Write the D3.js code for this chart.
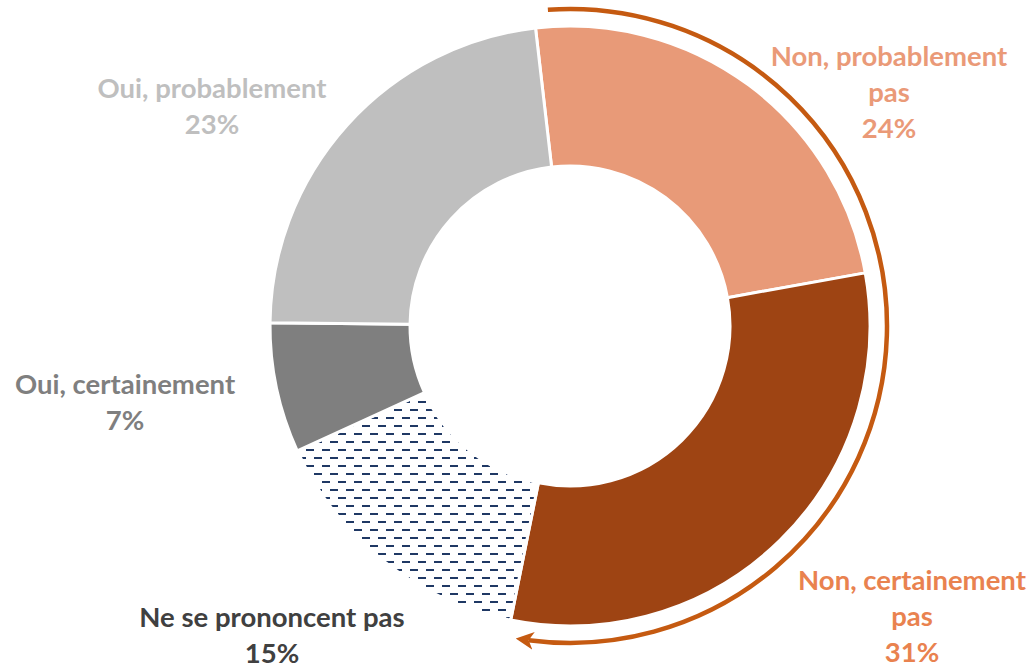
<!DOCTYPE html>
<meta charset="utf-8">
<style>
body { margin: 0; background: #fff; }
.lbl { font-family: Lato, "Open Sans", sans-serif; font-weight: bold; font-size: 27.5px; }
</style>
<body>
<script src="https://d3js.org/d3.v7.min.js"></script>
<script>

// slices, clockwise from the top
var categories = ["Non, probablement pas", "Non, certainement pas", "Ne se prononcent pas", "Oui, certainement", "Oui, probablement"];
var values = [24, 31, 15, 7, 23];
var labelLines = [
  ["Non, probablement", "pas", "24%"],
  ["Non, certainement", "pas", "31%"],
  ["Ne se prononcent pas", "15%"],
  ["Oui, certainement", "7%"],
  ["Oui, probablement", "23%"]
];

var width = 1029, height = 668;
var cx = 570, cy = 326, outerR = 300, innerR = 160;

var fills = ["#e89a78", "#9e4413", "url(#dashes)", "#7f7f7f", "#bfbfbf"];
var textColors = ["#ea9a78", "#e9824f", "#404040", "#7f7f7f", "#bfbfbf"];
// label centres (x, y of first line)
var labelPos = [[889, 55], [912, 579], [272, 616], [125, 383], [212, 87]];

var svg = d3.select("body").append("svg")
    .attr("width", width)
    .attr("height", height);

var defs = svg.append("defs");
var pat = defs.append("pattern")
    .attr("id", "dashes")
    .attr("patternUnits", "userSpaceOnUse")
    .attr("width", 16).attr("height", 16);
pat.append("rect").attr("width", 16).attr("height", 16).attr("fill", "#fff");
pat.append("rect").attr("x", 0).attr("y", 3).attr("width", 8).attr("height", 2).attr("fill", "#1f3864");
pat.append("rect").attr("x", 8).attr("y", 11).attr("width", 8).attr("height", 2).attr("fill", "#1f3864");

defs.append("marker")
    .attr("id", "arrow")
    .attr("markerUnits", "userSpaceOnUse")
    .attr("viewBox", "0 0 18 18")
    .attr("refX", 5).attr("refY", 9)
    .attr("markerWidth", 18).attr("markerHeight", 18)
    .attr("orient", "auto")
  .append("path")
    .attr("d", "M0,0 L18,9 L0,18 L5,9 Z")
    .attr("fill", "#c55a11");

var startAngle = -6.6 * Math.PI / 180;

var pie = d3.pie()
    .sort(null)
    .startAngle(startAngle)
    .endAngle(startAngle + 2 * Math.PI)
    .value(function(d) { return d; });

var arc = d3.arc()
    .innerRadius(innerR)
    .outerRadius(outerR);

var g = svg.append("g")
    .attr("transform", "translate(" + cx + "," + cy + ")");

g.selectAll("path.slice")
    .data(pie(values))
  .enter().append("path")
    .attr("class", "slice")
    .attr("d", arc)
    .attr("fill", function(d, i) { return fills[i]; })
    .attr("stroke", "#fff")
    .attr("stroke-width", 3);

// orange arrow around the "Non" slices
var arcR = 317;
var a0 = -4 * Math.PI / 180 - Math.PI / 2;
var a1 = 187.5 * Math.PI / 180 - Math.PI / 2;
var p = d3.path();
p.arc(0, 0, arcR, a0, a1, false);
g.append("path")
    .attr("d", p.toString())
    .attr("fill", "none")
    .attr("stroke", "#c55a11")
    .attr("stroke-width", 4.5)
    .attr("marker-end", "url(#arrow)");

// labels
labelLines.forEach(function(lines, i) {
  var t = svg.append("text")
      .attr("class", "lbl")
      .attr("text-anchor", "middle")
      .attr("fill", textColors[i])
      .attr("x", labelPos[i][0])
      .attr("y", labelPos[i][1])
      .attr("dominant-baseline", "central");
  lines.forEach(function(line, j) {
    t.append("tspan")
        .attr("x", labelPos[i][0])
        .attr("dy", j === 0 ? 0 : 36)
        .text(line);
  });
});

</script>
</body>
